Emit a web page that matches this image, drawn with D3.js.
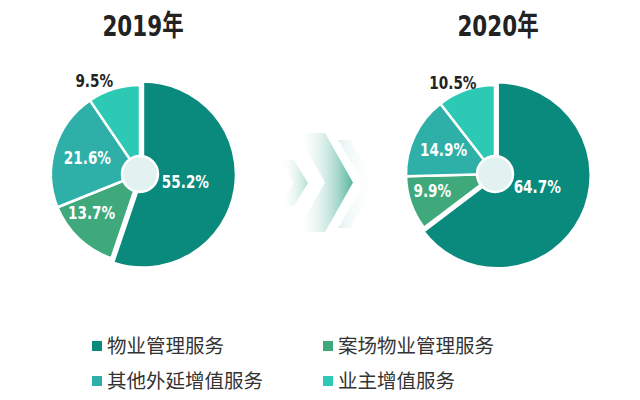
<!DOCTYPE html>
<html><head><meta charset="utf-8">
<script src="https://cdn.jsdelivr.net/npm/d3@7"></script>
<style>body{margin:0;background:#fff}svg{display:block}</style>
</head><body>
<svg id="c" width="640" height="400"></svg>
<script>
const categories = ["物业管理服务", "案场物业管理服务", "其他外延增值服务", "业主增值服务"];
const years = ["2019年", "2020年"];
const values2019 = [55.2, 13.7, 21.6, 9.5];
const values2020 = [64.7, 9.9, 14.9, 10.5];
const colors = ["#0a8a7c", "#3fa97c", "#2eb0a8", "#2ccab4"];

const svg = d3.select("#c");
const defs = svg.append("defs");
const g1 = defs.append("linearGradient").attr("id","chev").attr("x1","0").attr("x2","1").attr("y1","0").attr("y2","0");
g1.append("stop").attr("offset","0").attr("stop-color","#ffffff").attr("stop-opacity",0);
g1.append("stop").attr("offset","1").attr("stop-color","#56b59e");
const g2 = defs.append("linearGradient").attr("id","chev2").attr("x1","0").attr("x2","1");
g2.append("stop").attr("offset","0").attr("stop-color","#ffffff").attr("stop-opacity",0);
g2.append("stop").attr("offset","1").attr("stop-color","#b5ded4");
const g3 = defs.append("linearGradient").attr("id","chev3").attr("x1","0").attr("x2","1");
g3.append("stop").attr("offset","0").attr("stop-color","#e4f2f3");
g3.append("stop").attr("offset","1").attr("stop-color","#ffffff").attr("stop-opacity",0);

function chevron(x, yTop, yBot, w, depth, fill){
  const ym = (yTop + yBot) / 2;
  svg.append("path").attr("fill", fill)
    .attr("d", `M${x},${yTop} L${x+w},${yTop} L${x+w+depth},${ym} L${x+w},${yBot} L${x},${yBot} L${x+depth},${ym} Z`);
}
chevron(338, 140, 228, 12, 26, "url(#chev3)");
chevron(280, 160, 206, 14, 14, "url(#chev2)");
chevron(297, 133, 232, 28, 28, "url(#chev)");

const pies = [
  {title: years[0], values: values2019, cx: 140, cy: 174,
   labelR: [46, 62, 55, 104], labelShift: [0, 8, 0, -9]},
  {title: years[1], values: values2020, cx: 495, cy: 174,
   labelR: [44, 65, 57, 100], labelShift: [-10, 4, 0, -6]}
];
const pie = d3.pie().sort(null).value(d => d);
const R = 89, Rbig = 93;
const numFont = "'DejaVu Sans','Liberation Sans',sans-serif";

pies.forEach(p => {
  const g = svg.append("g").attr("transform", `translate(${p.cx},${p.cy})`);
  const arcs = pie(p.values);
  const arcSmall = d3.arc().innerRadius(0).outerRadius(R);
  const arcBig = d3.arc().innerRadius(0).outerRadius(Rbig);
  g.selectAll("path.s").data(arcs).join("path")
    .attr("class","s")
    .attr("d", (d,i) => i === 0 ? arcBig(d) : arcSmall(d))
    .attr("transform", (d,i) => {
      if (i !== 0) return null;
      const a = (d.startAngle + d.endAngle) / 2;
      return `translate(${Math.sin(a)*3},${-Math.cos(a)*3})`;
    })
    .attr("fill", (d,i) => colors[i])
    .attr("stroke", "#fff").attr("stroke-width", 2.5).attr("stroke-linejoin","round");
  g.append("circle").attr("r", 18).attr("fill", "#e2f2f0").attr("stroke","#fff").attr("stroke-width",2.5);

  g.selectAll("text.v").data(arcs).join("text")
    .attr("class","v")
    .attr("transform", (d,i) => {
      const a = (d.startAngle + d.endAngle) / 2 + p.labelShift[i] * Math.PI / 180;
      const r = p.labelR[i];
      return `translate(${Math.sin(a)*r},${-Math.cos(a)*r}) scale(0.8,1)`;
    })
    .attr("text-anchor", "middle").attr("dy", "0.36em")
    .attr("font-family", numFont)
    .attr("font-weight", "bold").attr("font-size", 17)
    .attr("fill", (d,i) => i === 3 ? "#222" : "#fff")
    .text(d => d.data.toFixed(1) + "%");

  svg.append("text").attr("transform", `translate(${p.cx + 3},36) scale(0.74,1)`)
    .attr("text-anchor","middle")
    .attr("font-family","'DejaVu Sans','Noto Sans CJK SC',sans-serif")
    .attr("font-weight","bold").attr("font-size", 29).attr("fill","#222")
    .text(p.title);
});

// legend
const legX = [92, 323], legY = [346, 381];
const leg = svg.append("g");
categories.forEach((c, i) => {
  const x = legX[i % 2], y = legY[Math.floor(i / 2)];
  leg.append("rect").attr("x", x).attr("y", y - 5).attr("width", 10).attr("height", 10).attr("fill", colors[i]);
  leg.append("text").attr("x", x + 15).attr("y", y).attr("dy","0.36em")
    .attr("font-family","'Noto Sans CJK SC',sans-serif").attr("font-size", 19.5).attr("fill","#333")
    .text(c);
});
</script>
</body></html>
